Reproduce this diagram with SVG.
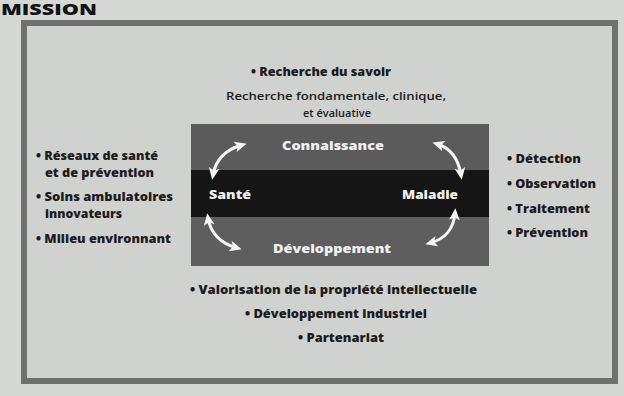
<svg xmlns="http://www.w3.org/2000/svg" width="624" height="396" viewBox="0 0 624 396">
  <style>
    .t { font-family: "Open Sans", Lato, "Liberation Sans", sans-serif; fill: #1c1c1c; }
    .b { font-weight: 800; font-size: 11.5px; }
    .r { font-weight: 600; font-size: 10.5px; }
    .w { font-family: "Open Sans", Lato, "Liberation Sans", sans-serif; font-weight: 800; font-size: 13px; fill: #f0f0f0; }
    .arr { fill: none; stroke: #f4f4f4; stroke-width: 3; stroke-linecap: round; }
  </style>
  <defs>
    <marker id="ah" viewBox="0 0 10 10" refX="6" refY="5" markerWidth="12" markerHeight="12" markerUnits="userSpaceOnUse" orient="auto-start-reverse">
      <path d="M0,0.5 L10,5 L0,9.5 L2.5,5 Z" fill="#f4f4f4"/>
    </marker>
  </defs>

  <rect x="0" y="0" width="624" height="396" fill="#d6d8d6"/>

  <g id="title">
    <text x="1" y="15" class="t" style="font-weight:800;font-size:15px;fill:#111" textLength="96" lengthAdjust="spacingAndGlyphs">MISSION</text>
  </g>

  <g id="frame">
    <rect x="24" y="23" width="591" height="358" fill="#d0d2d0" stroke="#6f7171" stroke-width="6"/>
  </g>

  <g id="core">
    <rect x="191" y="124" width="298" height="46" fill="#5b5b5b"/>
    <rect x="191" y="170" width="298" height="47" fill="#151515"/>
    <rect x="191" y="217" width="298" height="49" fill="#5e5e5e"/>
  </g>

  <g id="node-connaissance">
    <text x="333" y="150" class="w" text-anchor="middle" textLength="102" lengthAdjust="spacingAndGlyphs">Connaissance</text>
  </g>
  <g id="node-sante">
    <text x="209" y="199" class="w" textLength="42" lengthAdjust="spacingAndGlyphs">Santé</text>
  </g>
  <g id="node-maladie">
    <text x="402" y="199" class="w" textLength="56" lengthAdjust="spacingAndGlyphs">Maladie</text>
  </g>
  <g id="node-developpement">
    <text x="332" y="253" class="w" text-anchor="middle" textLength="118" lengthAdjust="spacingAndGlyphs">Développement</text>
  </g>

  <g id="connectors">
    <path class="arr" d="M213,175 Q217,152 242,145" marker-start="url(#ah)" marker-end="url(#ah)"/>
    <path class="arr" d="M208,218 Q212,241 237,248" marker-start="url(#ah)" marker-end="url(#ah)"/>
    <path class="arr" d="M437,144 Q457,150 461,175" marker-start="url(#ah)" marker-end="url(#ah)"/>
    <path class="arr" d="M455,213 Q453,237 430,243" marker-start="url(#ah)" marker-end="url(#ah)"/>
  </g>

  <g id="top-list">
    <text x="321" y="76" class="t b" text-anchor="middle" textLength="140" lengthAdjust="spacingAndGlyphs">• Recherche du savoir</text>
    <text x="336" y="100" class="t r" text-anchor="middle" textLength="220" lengthAdjust="spacingAndGlyphs">Recherche fondamentale, clinique,</text>
    <text x="337" y="117" class="t r" text-anchor="middle" textLength="68" lengthAdjust="spacingAndGlyphs">et évaluative</text>
  </g>

  <g id="left-list">
    <text x="36" y="160" class="t b" textLength="122" lengthAdjust="spacingAndGlyphs">• Réseaux de santé</text>
    <text x="45" y="177" class="t b" textLength="109" lengthAdjust="spacingAndGlyphs">et de prévention</text>
    <text x="36" y="201" class="t b" textLength="137" lengthAdjust="spacingAndGlyphs">• Soins ambulatoires</text>
    <text x="45" y="218" class="t b" textLength="77" lengthAdjust="spacingAndGlyphs">innovateurs</text>
    <text x="36" y="243" class="t b" textLength="135" lengthAdjust="spacingAndGlyphs">• Milieu environnant</text>
  </g>

  <g id="right-list">
    <text x="507" y="163" class="t b" textLength="74" lengthAdjust="spacingAndGlyphs">• Détection</text>
    <text x="507" y="188" class="t b" textLength="89" lengthAdjust="spacingAndGlyphs">• Observation</text>
    <text x="507" y="213" class="t b" textLength="83" lengthAdjust="spacingAndGlyphs">• Traitement</text>
    <text x="507" y="237" class="t b" textLength="81" lengthAdjust="spacingAndGlyphs">• Prévention</text>
  </g>

  <g id="bottom-list">
    <text x="190" y="294" class="t b" textLength="287" lengthAdjust="spacingAndGlyphs">• Valorisation de la propriété  intellectuelle</text>
    <text x="245" y="318" class="t b" textLength="182" lengthAdjust="spacingAndGlyphs">• Développement industriel</text>
    <text x="298" y="342" class="t b" textLength="86" lengthAdjust="spacingAndGlyphs">• Partenariat</text>
  </g>
</svg>
